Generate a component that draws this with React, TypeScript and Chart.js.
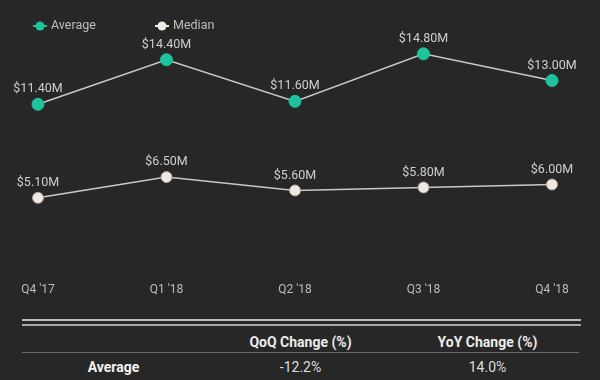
import React, { useEffect, useRef } from "react";
import { Chart, registerables } from "chart.js";

Chart.register(...registerables);

const categories = ["Q4 '17", "Q1 '18", "Q2 '18", "Q3 '18", "Q4 '18"];
const averageValues = [11.4, 14.4, 11.6, 14.8, 13.0];
const medianValues = [5.1, 6.5, 5.6, 5.8, 6.0];
const seriesNames = ["Average", "Median"];
const tableHeaders = ["", "QoQ Change (%)", "YoY Change (%)"];
const tableRowLabel = "Average";
const tableRowValues = ["-12.2%", "14.0%"];

const BG = "#272727";
const TEAL = "#1fc39c";
const CREAM = "#efe9e2";
const LINE = "#c9c9c9";
const FONT = "Roboto, 'Noto Sans', sans-serif";

const fmt = (v: number) => "$" + v.toFixed(2) + "M";

const labelsPlugin = {
  id: "valueLabels",
  afterDatasetsDraw(chart: any) {
    const ctx = chart.ctx;
    ctx.save();
    ctx.font = "12.5px " + FONT;
    ctx.fillStyle = "#cfcfcf";
    ctx.textAlign = "center";
    ctx.textBaseline = "middle";
    chart.data.datasets.forEach((ds: any, i: number) => {
      const meta = chart.getDatasetMeta(i);
      meta.data.forEach((pt: any, j: number) => {
        ctx.fillText(fmt(ds.data[j]), pt.x, pt.y - 15);
      });
    });
    ctx.restore();
  },
};

const legendPlugin = {
  id: "customLegend",
  afterDraw(chart: any) {
    const ctx = chart.ctx;
    ctx.save();
    ctx.font = "12.5px " + FONT;
    ctx.textBaseline = "middle";
    ctx.textAlign = "left";
    const y = 26;
    chart.data.datasets.forEach((ds: any, i: number) => {
      const cx = 40 + i * 122;
      ctx.strokeStyle = ds.pointBackgroundColor;
      ctx.lineWidth = 2;
      ctx.beginPath();
      ctx.moveTo(cx - 7, y);
      ctx.lineTo(cx + 7, y);
      ctx.stroke();
      ctx.fillStyle = ds.pointBackgroundColor;
      ctx.beginPath();
      ctx.arc(cx, y, 4.5, 0, Math.PI * 2);
      ctx.fill();
      ctx.fillStyle = "#bdbdbd";
      ctx.fillText(ds.label, cx + 11, y);
    });
    ctx.restore();
  },
};

export default function App() {
  const ref = useRef<HTMLCanvasElement | null>(null);

  useEffect(() => {
    document.body.style.margin = "0";
    document.body.style.background = BG;
    if (!ref.current) return;
    const chart = new Chart(ref.current, {
      type: "line",
      data: {
        labels: categories,
        datasets: [
          {
            label: seriesNames[0],
            data: averageValues,
            borderColor: LINE,
            borderWidth: 1.5,
            pointBackgroundColor: TEAL,
            pointBorderColor: TEAL,
            pointBorderWidth: 1,
            pointRadius: 6,
            tension: 0,
          },
          {
            label: seriesNames[1],
            data: medianValues,
            borderColor: LINE,
            borderWidth: 1.5,
            pointBackgroundColor: CREAM,
            pointBorderColor: "#a9a39c",
            pointBorderWidth: 1,
            pointRadius: 5.5,
            tension: 0,
          },
        ],
      },
      options: {
        responsive: false,
        animation: false,
        layout: { padding: { top: 36, left: 22, right: 48, bottom: 0 } },
        plugins: { legend: { display: false }, tooltip: { enabled: false } },
        scales: {
          x: {
            offset: false,
            grid: { display: false, drawTicks: false },
            border: { display: false },
            ticks: { color: "#bdbdbd", font: { family: FONT, size: 12 }, padding: 9 },
          },
          y: {
            min: 0,
            max: 16,
            grid: { display: false, drawTicks: false },
            border: { display: false },
            ticks: { display: false },
            afterFit: (s: any) => {
              s.width = 16;
            },
          },
        },
      },
      plugins: [labelsPlugin, legendPlugin],
    });
    return () => chart.destroy();
  }, []);

  const cell: React.CSSProperties = {
    position: "absolute",
    width: 187,
    textAlign: "center",
    fontFamily: FONT,
    fontSize: 14,
    lineHeight: "16px",
  };

  return (
    <div style={{ width: 600, height: 380, background: BG, position: "relative", overflow: "hidden" }}>
      <canvas ref={ref} width={600} height={306} style={{ display: "block", position: "absolute", left: 0, top: 0 }} />
      <div style={{ position: "absolute", left: 22, width: 559, top: 319, height: 2, background: "#bdbdbd" }} />
      <div style={{ position: "absolute", left: 22, width: 559, top: 324, height: 1.5, background: "#a8a8a8" }} />
      <div style={{ position: "absolute", left: 22, width: 557, top: 352, height: 1, background: "#6a6a6a" }} />
      {tableHeaders.map((h, i) => (
        <div key={"h" + i} style={{ ...cell, left: 20 + i * 187, top: 334, fontWeight: 700, color: "#ececec" }}>
          {h}
        </div>
      ))}
      <div style={{ ...cell, left: 20, top: 359, fontWeight: 700, color: "#f2f2f2" }}>{tableRowLabel}</div>
      {tableRowValues.map((v, i) => (
        <div key={"v" + i} style={{ ...cell, left: 20 + (i + 1) * 187, top: 359, color: "#dedede" }}>
          {v}
        </div>
      ))}
    </div>
  );
}
